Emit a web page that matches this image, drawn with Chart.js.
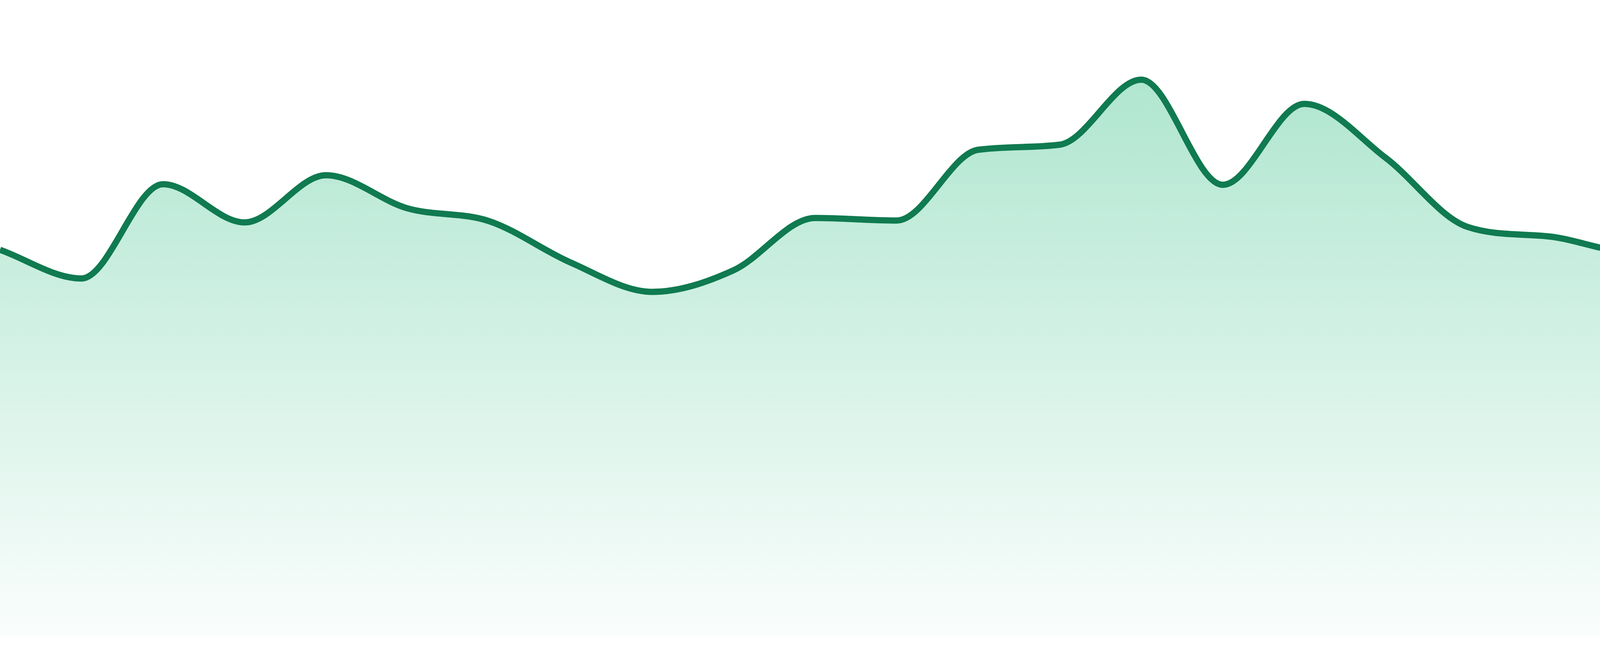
<!DOCTYPE html>
<html>
<head>
<meta charset="utf-8">
<script src="https://cdn.jsdelivr.net/npm/chart.js@4.4.1/dist/chart.umd.min.js"></script>
<style>
  html, body { margin: 0; padding: 0; background: #ffffff; }
  #wrap { width: 4800px; height: 1680px; position: relative; }
</style>
</head>
<body>
<div id="wrap"><canvas id="c"></canvas></div>
<script>
const labels = ["1","2","3","4","5","6","7","8","9","10","11","12","13","14","15","16","17","18","19","20","21","22","23","24"];
const values = [60.8, 56.3, 71.1, 65.1, 72.5, 67.3, 65.3, 58.8, 54.2, 57.6, 65.8, 65.4,
                76.5, 77.3, 87.5, 71.0, 83.7, 75.2, 64.4, 62.9, 60.5, 63.8, 71.2, 68.9];
const yMin = 0;
const yMax = 100;

const ctx = document.getElementById('c');
new Chart(ctx, {
  type: 'line',
  data: {
    labels: labels,
    datasets: [{
      data: values,
      borderColor: '#107a50',
      borderWidth: 16,
      pointRadius: 0,
      pointHoverRadius: 0,
      cubicInterpolationMode: 'monotone',
      tension: 0.4,
      fill: 'start',
      backgroundColor: function(context) {
        const chart = context.chart;
        const area = chart.chartArea;
        if (!area) return 'rgba(18,180,115,0.3)';
        const g = chart.ctx.createLinearGradient(0, area.top, 0, area.bottom);
        g.addColorStop(0, 'rgba(18,180,115,0.38)');
        g.addColorStop(1, 'rgba(18,180,115,0.02)');
        return g;
      }
    }]
  },
  options: {
    responsive: true,
    maintainAspectRatio: false,
    animation: false,
    layout: { padding: { left: 0, right: 0, top: 0, bottom: 48 } },
    plugins: { legend: { display: false }, tooltip: { enabled: false } },
    scales: {
      x: { display: false, offset: false },
      y: { display: false, min: yMin, max: yMax }
    }
  }
});
</script>
</body>
</html>
